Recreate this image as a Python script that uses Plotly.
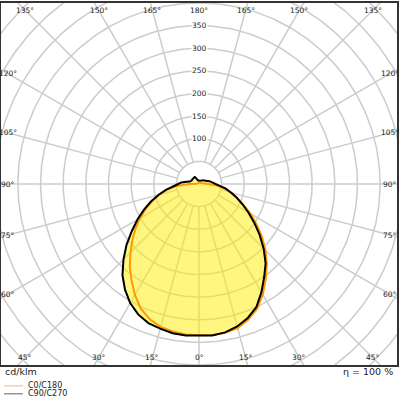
import numpy as np
import plotly.graph_objects as go

# ---- data (cd/klm) ----
gamma = list(range(0, 181, 5))
# C0/C180 plane (orange)
I_C0 = [334, 335, 334, 330, 319, 304, 282, 257, 233, 208, 182, 155, 132, 108, 88, 72, 57, 40, 20, 6, 4,
        3, 3, 3, 3, 3, 3, 3, 3, 3, 3, 3, 3, 3, 3, 3, 3]
I_C180 = [334, 334, 331, 327, 318, 304, 283, 260, 238, 214, 192, 171, 150, 130, 109, 92, 74, 50, 22, 6, 4,
          3, 3, 3, 3, 3, 3, 3, 3, 3, 3, 3, 3, 3, 3, 3, 3]
# C90/C270 plane (black)
I_C90 = [335, 336, 333, 326, 315, 300, 276, 251, 229, 202, 175, 149, 126, 106, 89, 74, 60, 46, 37, 31, 27,
         24, 20, 18, 16, 15, 14, 12, 10, 9, 8, 7, 7, 7, 7, 7, 7]
I_C270 = [335, 336, 335, 331, 327, 318, 304, 285, 263, 236, 209, 181, 157, 134, 113, 92, 74, 56, 46, 39, 28,
          21, 19, 18, 18, 18, 18, 18, 18, 18, 18, 14, 10, 8, 7, 7, 7]

ring_values = list(range(50, 651, 50))
ring_labels = [100, 150, 200, 250, 300, 350]
spoke_step = 15
angle_labels = list(range(0, 181, 15))
unit_label = "cd/klm"
efficiency_label = "η = 100 %"
series_names = ["C0/C180", "C90/C270"]

ORANGE = "#ff9a00"
BLACK = "#000000"
GRID = "#cccccc"
TXT = "#222222"
FONT = "DejaVu Sans"

XR = 437.4
YR = 400.0


def curve(left, right):
    g = np.radians(np.array(gamma, dtype=float))
    L = np.array(left, dtype=float)
    R = np.array(right, dtype=float)
    xl = -L * np.sin(g)
    yl = -L * np.cos(g)
    xr = R * np.sin(g)
    yr = -R * np.cos(g)
    x = np.concatenate([xl[::-1], xr[1:]])
    y = np.concatenate([yl[::-1], yr[1:]])
    return x, y


fig = go.Figure()

# grid: rings and spokes
gx, gy = [], []
t = np.radians(np.linspace(0, 360, 361))
for r in ring_values:
    gx += list(r * np.sin(t)) + [None]
    gy += list(-r * np.cos(t)) + [None]
for a in range(0, 360, spoke_step):
    if a == 180:
        continue
    ar = np.radians(a)
    gx += [50 * np.sin(ar), 800 * np.sin(ar), None]
    gy += [-50 * np.cos(ar), -800 * np.cos(ar), None]
fig.add_trace(go.Scatter(x=gx, y=gy, mode="lines", line=dict(color=GRID, width=1.5),
                         hoverinfo="skip", showlegend=False))

# fill
bx, by = curve(I_C270, I_C90)
ox, oy = curve(I_C180, I_C0)
fig.add_trace(go.Scatter(x=bx, y=by, mode="lines", fill="toself",
                         fillcolor="rgba(255,238,0,0.5)", line=dict(width=0),
                         hoverinfo="skip", showlegend=False))
fig.add_trace(go.Scatter(x=ox, y=oy, mode="lines", line=dict(color=ORANGE, width=2),
                         name=series_names[0], showlegend=False))
fig.add_trace(go.Scatter(x=bx, y=by, mode="lines", line=dict(color=BLACK, width=2),
                         name=series_names[1], showlegend=False))

annotations = []
# radial labels
for r in ring_labels:
    annotations.append(dict(x=0, y=r, xref="x", yref="y", text=str(r), showarrow=False,
                            font=dict(family=FONT, size=7.5, color=TXT), bgcolor="white",
                            borderpad=0))
# angle labels along the frame
XIN, YIN = 422.0, 384.0
for gdeg in angle_labels:
    sides = [1] if gdeg in (0, 180) else [-1, 1]
    for s in sides:
        gr = np.radians(gdeg)
        dx = s * np.sin(gr)
        dy = -np.cos(gr)
        tx = XIN / abs(dx) if abs(dx) > 1e-9 else 1e9
        ty = YIN / abs(dy) if abs(dy) > 1e-9 else 1e9
        k = min(tx, ty)
        annotations.append(dict(x=k * dx, y=k * dy, xref="x", yref="y", text=f"{gdeg}°",
                                showarrow=False, font=dict(family=FONT, size=7.5, color=TXT)))

# bottom texts (paper coords: plot area is px 1..399 x, 1..365 y)
def px(xp):
    return (xp - 1) / 398.0


def py(yp):
    return (365 - yp) / 364.0


annotations.append(dict(x=px(3), y=py(372), xref="paper", yref="paper", text=unit_label,
                        showarrow=False, xanchor="left", yanchor="middle",
                        font=dict(family=FONT, size=9.5, color=TXT)))
annotations.append(dict(x=px(397), y=py(372), xref="paper", yref="paper", text=efficiency_label,
                        showarrow=False, xanchor="right", yanchor="middle",
                        font=dict(family=FONT, size=9.5, color=TXT)))
# manual legend
leg_colors = ["#f8b46a", "#56627c"]
leg_y = [386, 394]
shapes = []
for name, c, yy in zip(series_names, leg_colors, leg_y):
    shapes.append(dict(type="line", xref="paper", yref="paper", x0=px(4), x1=px(23),
                       y0=py(yy), y1=py(yy), line=dict(color=c, width=1)))
    annotations.append(dict(x=px(26), y=py(yy), xref="paper", yref="paper", text=name,
                            showarrow=False, xanchor="left", yanchor="middle",
                            font=dict(family=FONT, size=8, color=TXT)))

fig.update_layout(
    width=400, height=400,
    margin=dict(l=1, r=1, t=1, b=35),
    paper_bgcolor="white", plot_bgcolor="white",
    xaxis=dict(range=[-XR, XR], showgrid=False, zeroline=False, showticklabels=False,
               ticks="", showline=True, mirror=True, linecolor="#333333", linewidth=1.5,
               fixedrange=True),
    yaxis=dict(range=[-YR, YR], showgrid=False, zeroline=False, showticklabels=False,
               ticks="", showline=True, mirror=True, linecolor="#333333", linewidth=1.5,
               fixedrange=True),
    annotations=annotations,
    shapes=shapes,
    showlegend=False,
)

fig.write_html(
    "out.html",
    config={"displayModeBar": False},
    post_script="document.body.style.margin='0';document.body.style.overflow='hidden';",
)
